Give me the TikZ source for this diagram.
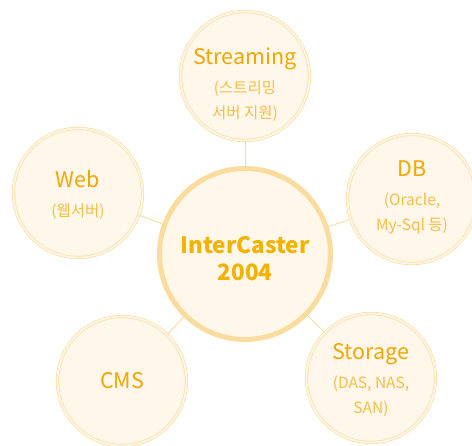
\documentclass[tikz,border=0pt]{standalone}
\usepackage{fontspec}
\setmainfont{Noto Sans CJK KR}
\definecolor{ring}{HTML}{FADC9F}
\definecolor{cream}{HTML}{FFF7EA}
\definecolor{head}{HTML}{F2A600}
\definecolor{subt}{HTML}{F5BE45}
\definecolor{core}{HTML}{F2B300}
\newcommand{\subtxt}{\color{subt}\fontsize{15.5}{18}\selectfont}
\begin{document}
\begin{tikzpicture}[x=1pt,y=-1pt,
  sat/.style={circle,draw=ring,double=cream,double distance=1.8pt,line width=0.7pt,fill=cream,
    minimum size=129pt,inner sep=0pt},
  lbl/.style={align=center,text=head,inner sep=0pt,font=\fontsize{21.5}{25}\selectfont},
  hub/.style={circle,draw=ring,line width=5pt,fill=cream,minimum size=171pt,inner sep=0pt},
  hublbl/.style={align=center,text=core,inner sep=0pt,font=\bfseries\fontsize{22.5}{27}\selectfont},
  link/.style={draw=ring,line width=0.9pt}]
\useasboundingbox (0,0) rectangle (472,446);
%\draw[help lines] (0,0) grid[step=50] (472,446);
\node[hub] (IC) at (245,254) {};
\node[sat] (Stream) at (245,76) {};
\node[sat] (Web) at (78,193) {};
\node[sat] (DB) at (412,199) {};
\node[sat] (CMS) at (122,381) {};
\node[sat] (Store) at (371,378) {};
% texts
\node[hublbl] (ICT) at ([yshift=-5pt]IC) {InterCaster\\2004};
\node[lbl] (StreamT) at ([yshift=-9pt]Stream) {Streaming\\[4pt]{\subtxt (스트리밍}\\{\subtxt 서버 지원)}};
\node[lbl] (WebT) at ([yshift=-2pt]Web) {Web\\[4pt]{\subtxt (웹서버)}};
\node[lbl] (DBT) at ([yshift=2pt]DB) {DB\\[4pt]{\subtxt (Oracle,}\\{\subtxt My-Sql 등)}};
\node[lbl] (CMST) at (CMS) {CMS};
\node[lbl] (StoreT) at ([yshift=-2pt]Store) {Storage\\[4pt]{\subtxt (DAS, NAS,}\\{\subtxt SAN)}};
\draw[link] (IC)--(Stream);
\draw[link] (IC)--(Web);
\draw[link] (IC)--(DB);
\draw[link] (IC)--(CMS);
\draw[link] (IC)--(Store);
\end{tikzpicture}
\end{document}
